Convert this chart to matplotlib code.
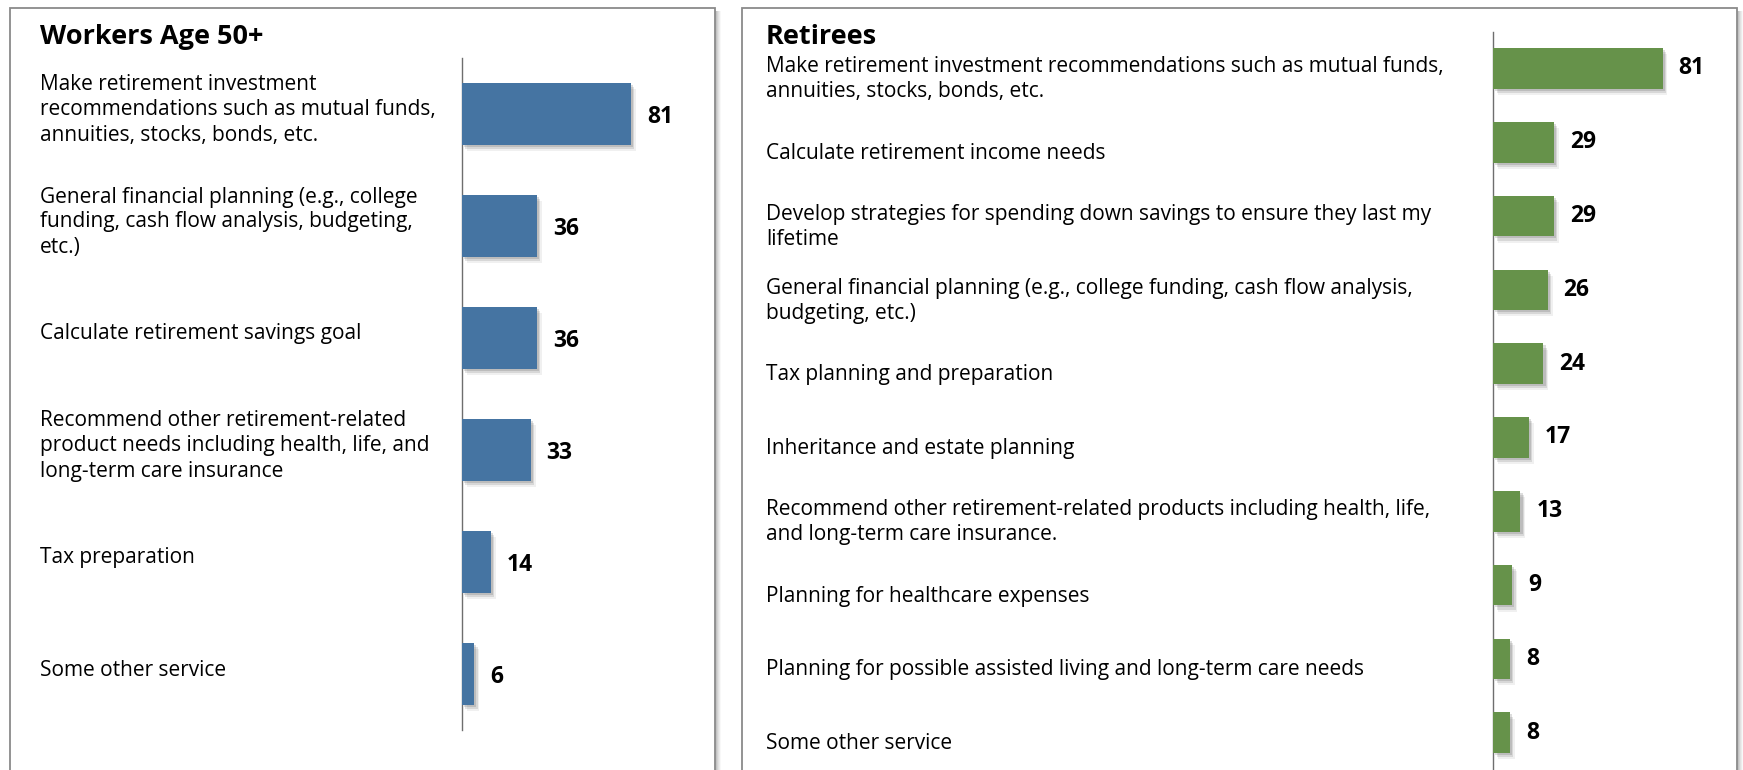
import matplotlib
matplotlib.use("Agg")
import matplotlib.pyplot as plt
import matplotlib.patheffects as pe
from matplotlib.patches import Rectangle
from matplotlib.transforms import blended_transform_factory, offset_copy

plt.rcParams['font.family'] = ['Open Sans', 'DejaVu Sans']

# survey data (percent)
workers_labels = [
    "Make retirement investment\nrecommendations such as mutual funds,\nannuities, stocks, bonds, etc.",
    "General financial planning (e.g., college\nfunding, cash flow analysis, budgeting,\netc.)",
    "Calculate retirement savings goal",
    "Recommend other retirement-related\nproduct needs including health, life, and\nlong-term care insurance",
    "Tax preparation",
    "Some other service",
]
workers_values = [81, 36, 36, 33, 14, 6]

retirees_labels = [
    "Make retirement investment recommendations such as mutual funds,\nannuities, stocks, bonds, etc.",
    "Calculate retirement income needs",
    "Develop strategies for spending down savings to ensure they last my\nlifetime",
    "General financial planning (e.g., college funding, cash flow analysis,\nbudgeting, etc.)",
    "Tax planning and preparation",
    "Inheritance and estate planning",
    "Recommend other retirement-related products including health, life,\nand long-term care insurance.",
    "Planning for healthcare expenses",
    "Planning for possible assisted living and long-term care needs",
    "Some other service",
]
retirees_values = [81, 29, 29, 26, 24, 17, 13, 9, 8, 8]

W, H = 1743, 770
fig = plt.figure(figsize=(W / 100, H / 100), dpi=100)


def fx(px):
    return px / W


def fy(py):
    return 1 - py / H


def panel(x0, x1, top):
    # soft shadow on the right, then the framed box
    for i, a in enumerate([0.22, 0.16, 0.11, 0.07, 0.04]):
        fig.patches.append(Rectangle((fx(x1 + i), fy(H + 20)), fx(1.5), fy(top + 3) - fy(H + 20),
                                     transform=fig.transFigure, facecolor='#555555',
                                     edgecolor='none', alpha=a, zorder=0))
    fig.patches.append(Rectangle((fx(x0), fy(H + 20)), fx(x1 - x0), fy(top) - fy(H + 20),
                                 transform=fig.transFigure, facecolor='white',
                                 edgecolor='#8a8a8a', linewidth=1.3, zorder=1))


panel(10, 715, 8)
panel(742, 1737, 8)

shadow = [pe.SimplePatchShadow(offset=(1.5, -1.5), shadow_rgbFace='#444444', alpha=0.18),
          pe.SimplePatchShadow(offset=(2.5, -3), shadow_rgbFace='#444444', alpha=0.14),
          pe.SimplePatchShadow(offset=(3.5, -4.5), shadow_rgbFace='#444444', alpha=0.08),
          pe.Normal()]

XMAX = 115
PX_PER_UNIT = 2.09


def draw(ax_left, ax_top, ax_bottom, labels, values, color, text_x, dy_label, dy_value):
    ax = fig.add_axes([fx(ax_left), fy(ax_bottom), fx(XMAX * PX_PER_UNIT), fy(ax_top) - fy(ax_bottom)])
    ax.set_zorder(2)
    ax.patch.set_alpha(0)
    n = len(values)
    y = list(range(n))
    bars = ax.barh(y, values, height=0.55, color=color, zorder=3)
    for b in bars:
        b.set_path_effects(shadow)
    ax.set_xlim(0, XMAX)
    ax.set_ylim(n - 0.5, -0.5)
    for s in ['top', 'right', 'bottom']:
        ax.spines[s].set_visible(False)
    ax.spines['left'].set_color('#6e6e6e')
    ax.spines['left'].set_linewidth(1.0)
    ax.set_xticks([])
    ax.set_yticks([])
    for yi, v in zip(y, values):
        ax.annotate(str(v), (v, yi), xytext=(11.5, -dy_value * 0.72), textcoords='offset points',
                    ha='left', va='center', fontsize=16.5, fontweight='bold', color='black')
    tr = offset_copy(blended_transform_factory(fig.transFigure, ax.transData),
                     fig=fig, x=0, y=-dy_label * 72 / 100, units='points')
    for yi, lab in zip(y, labels):
        ax.text(fx(text_x), yi, lab, transform=tr, ha='left', va='center',
                fontsize=15, linespacing=1.25, color='black', clip_on=False)
    return ax


draw(461.7, 58, 730, workers_labels, workers_values, '#4574A2', 40, -4, 3)
draw(1493.3, 31.6, 769.6, retirees_labels, retirees_values, '#66924A', 766, 11, 0)

fig.text(fx(40), fy(37), "Workers Age 50+", ha='left', va='center', fontsize=19.5, fontweight='bold')
fig.text(fx(766), fy(37), "Retirees", ha='left', va='center', fontsize=19.5, fontweight='bold')

fig.savefig('out.png', dpi=100)
